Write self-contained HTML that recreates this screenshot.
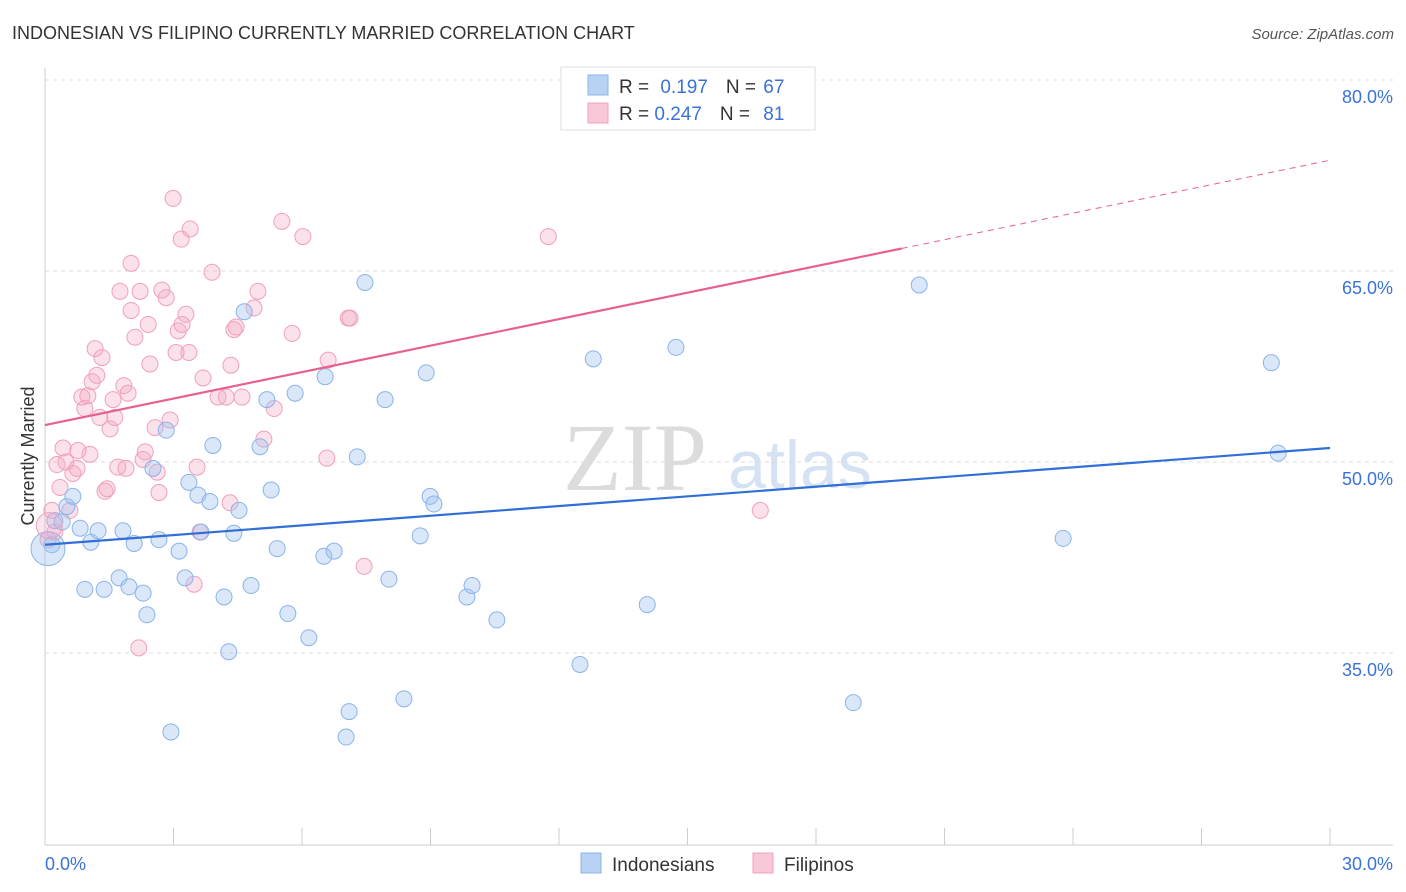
<!DOCTYPE html>
<html><head><meta charset="utf-8"><style>
body{margin:0;background:#fff;font-family:"Liberation Sans",sans-serif}
svg{display:block}
</style></head><body>
<svg id="c" width="1406" height="892" xmlns="http://www.w3.org/2000/svg">
<text x="12" y="39" font-size="18" fill="#333">INDONESIAN VS FILIPINO CURRENTLY MARRIED CORRELATION CHART</text>
<text x="1394" y="39" font-size="15" fill="#555" text-anchor="end" font-style="italic">Source: ZipAtlas.com</text>
<text x="635" y="490" font-size="96" fill="#dcdcdc" text-anchor="middle" font-family="Liberation Serif,serif">ZIP</text>
<text x="800" y="488" font-size="68" fill="#d4e2f4" text-anchor="middle">atlas</text>
<text transform="translate(34,456) rotate(-90)" font-size="18" fill="#333" text-anchor="middle">Currently Married</text>
<g id="grid"></g><g id="pts"></g><g id="lines"></g>
<g>
<rect x="561" y="67" width="254" height="63" fill="#fff" stroke="#ddd"/>
<rect x="588" y="75" width="20" height="20" fill="#b8d2f4" stroke="#8ab4e8"/>
<rect x="588" y="103" width="20" height="20" fill="#f9c8d8" stroke="#f0a0bc"/>
<text x="619" y="93" font-size="19" fill="#333">R = <tspan fill="#3a72d8" dx="6">0.197</tspan><tspan dx="18" fill="#333">N = </tspan><tspan fill="#3a72d8" dx="2">67</tspan></text>
<text x="619" y="120" font-size="19" fill="#333">R = <tspan fill="#3a72d8">0.247</tspan><tspan dx="18" fill="#333">N = </tspan><tspan fill="#3a72d8" dx="8">81</tspan></text>
</g>
<g>
<rect x="581" y="853" width="20" height="20" fill="#b8d2f4" stroke="#8ab4e8"/>
<text x="612" y="871" font-size="19" fill="#333">Indonesians</text>
<rect x="753" y="853" width="20" height="20" fill="#f9c8d8" stroke="#f0a0bc"/>
<text x="784" y="871" font-size="19" fill="#333">Filipinos</text>
</g>
</svg>
<script>
const yTicks=[35,50,65,80];
const yTickLabels=["35.0%","50.0%","65.0%","80.0%"];
const xEdgeLabels=["0.0%","30.0%"];
const blueX=[0.16,0.23,0.40,0.51,0.65,0.82,0.93,1.07,1.24,1.38,1.73,1.82,1.96,2.08,2.29,2.38,2.52,2.66,2.83,3.13,3.27,3.36,3.57,3.64,3.85,3.92,4.18,4.29,4.41,4.53,4.65,4.81,5.02,5.18,5.28,5.42,5.67,5.84,6.16,6.51,6.54,6.75,7.10,7.03,7.29,7.47,7.94,8.03,8.38,8.76,8.90,8.99,9.08,9.85,9.97,10.55,2.94,12.49,12.80,14.06,14.73,18.87,20.41,23.77,28.63,28.79];
const blueY=[43.5,45.4,45.3,46.5,47.3,44.8,40.0,43.7,44.6,40.0,40.9,44.6,40.2,43.6,39.7,38.0,49.5,43.9,52.5,43.0,40.9,48.4,47.4,44.5,46.9,51.3,39.4,35.1,44.4,46.2,61.8,40.3,51.2,54.9,47.8,43.2,38.1,55.4,36.2,42.6,56.7,43.0,30.4,28.4,50.4,64.1,54.9,40.8,31.4,44.2,57.0,47.3,46.7,39.4,40.3,37.6,28.8,34.1,58.1,38.8,59.0,31.1,63.9,44.0,57.8,50.7];
const pinkX=[0.07,0.16,0.23,0.35,0.28,0.42,0.49,0.58,0.65,0.75,0.77,0.86,0.93,1.00,1.05,1.10,1.17,1.21,1.28,1.33,1.40,1.45,1.52,1.59,1.63,1.70,1.75,1.84,1.89,1.94,2.01,2.01,2.10,2.22,2.29,2.34,2.41,2.45,2.57,2.62,2.66,2.73,2.83,2.92,2.99,3.06,3.11,3.18,3.20,3.29,3.36,3.39,3.48,3.55,3.62,3.69,3.90,4.04,4.23,4.34,4.41,4.46,4.60,4.88,4.97,5.11,5.35,5.53,5.77,6.02,6.58,6.61,7.08,7.12,7.45,11.75,16.70,2.19,4.32];
const pinkY=[43.9,46.2,44.5,48.0,49.8,51.1,50.0,46.2,49.1,49.5,50.9,55.1,54.2,55.2,50.6,56.3,58.9,56.8,53.5,58.2,47.7,47.9,52.6,54.9,53.5,49.6,63.4,56.0,49.5,55.4,65.6,61.9,59.8,63.4,50.2,50.8,60.8,57.7,52.7,49.2,47.6,63.5,62.9,53.3,70.7,58.6,60.3,67.5,60.8,61.6,58.6,68.3,40.4,49.6,44.5,56.6,64.9,55.1,55.1,57.6,60.4,60.6,55.1,62.1,63.4,51.8,54.2,68.9,60.1,67.7,50.3,58.0,61.3,61.3,41.8,67.7,46.2,35.4,46.8];
const blueTrend=[43.5,51.1];
const pinkTrend=[52.9,73.7];
const NS="http://www.w3.org/2000/svg";
const X0=45,X1=1330,YB=845;
const sx=v=>X0+(v/30)*(X1-X0);
const sy=v=>462-(v-50)*(191/15);
function mk(t,a,p){const e=document.createElementNS(NS,t);for(const k in a)e.setAttribute(k,a[k]);p.appendChild(e);return e;}
const grid=document.getElementById('grid');
yTicks.forEach((t,i)=>{
 const l=mk('line',{x1:X0,x2:1393,y1:sy(t),y2:sy(t),stroke:'#ddd','stroke-dasharray':'4,4'},grid);
 
 
 const tx=mk('text',{x:1393,y:sy(t)+23,'font-size':18,fill:'#3a72d8','text-anchor':'end'},grid);
 tx.textContent=yTickLabels[i];
 
 
});
const ax=mk('line',{x1:X0,x2:X0,y1:68,y2:YB,stroke:'#ccc'},grid);


const bx=mk('line',{x1:X0,x2:1393,y1:YB,y2:YB,stroke:'#ccc'},grid);


for(let i=0;i<=10;i++){
 const t=mk('line',{x1:sx(i*3),x2:sx(i*3),y1:828,y2:YB,stroke:'#ccc'},grid);
 
 
}
const xl0=mk('text',{x:45,y:870,'font-size':18,fill:'#3a72d8'},grid);xl0.textContent=xEdgeLabels[0];


const xl1=mk('text',{x:1393,y:870,'font-size':18,fill:'#3a72d8','text-anchor':'end'},grid);xl1.textContent=xEdgeLabels[1];


const pts=document.getElementById('pts');
pinkX.forEach((v,i)=>{
 const c=mk('circle',{cx:sx(v),cy:sy(pinkY[i]),r:8,fill:'rgba(244,170,196,0.35)',stroke:'#f0a0bc','stroke-width':1},pts);
 
 
});
blueX.forEach((v,i)=>{
 const c=mk('circle',{cx:sx(v),cy:sy(blueY[i]),r:8,fill:'rgba(160,196,240,0.4)',stroke:'#8ab4e8','stroke-width':1},pts);
 
 
});
const bigB=mk('circle',{cx:sx(0.07),cy:sy(43.2),r:17,fill:'rgba(160,196,240,0.4)',stroke:'#8ab4e8'},pts);


const bigP=mk('circle',{cx:sx(0.1),cy:sy(45),r:13,fill:'rgba(244,170,196,0.3)',stroke:'#f0a0bc'},pts);


const lines=document.getElementById('lines');
const bl=mk('line',{x1:sx(0),y1:sy(blueTrend[0]),x2:sx(30),y2:sy(blueTrend[1]),stroke:'#2f6fd6','stroke-width':2.2},lines);


const pv=x=>pinkTrend[0]+(pinkTrend[1]-pinkTrend[0])*x/30;
const pl=mk('line',{x1:sx(0),y1:sy(pv(0)),x2:sx(20),y2:sy(pv(20)),stroke:'#e8608e','stroke-width':2.2},lines);


const pd=mk('line',{x1:sx(20),y1:sy(pv(20)),x2:sx(30),y2:sy(pv(30)),stroke:'#e8608e','stroke-width':1,'stroke-dasharray':'6,5'},lines);


</script>
</body></html>
